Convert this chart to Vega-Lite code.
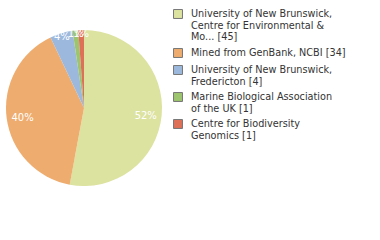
{
  "$schema": "https://vega.github.io/schema/vega-lite/v6.json",
  "width": 168,
  "height": 216,
  "padding": {"left": 0, "top": 0, "right": 0, "bottom": 0},
  "background": "white",
  "config": {"view": {"stroke": null}, "font": "DejaVu Sans"},
  "data": {"values": [
    {"source": "University of New Brunswick,\nCentre for Environmental &\nMo... [45]", "count": 45, "order": 1, "pct": "52%"},
    {"source": "Mined from GenBank, NCBI [34]", "count": 34, "order": 2, "pct": "40%"},
    {"source": "University of New Brunswick,\nFredericton [4]", "count": 4, "order": 3, "pct": "4%"},
    {"source": "Marine Biological Association\nof the UK [1]", "count": 1, "order": 4, "pct": "1%"},
    {"source": "Centre for Biodiversity\nGenomics [1]", "count": 1, "order": 5, "pct": "1%"}
  ]},
  "encoding": {
    "theta": {"field": "count", "type": "quantitative", "stack": true},
    "order": {"field": "order", "type": "quantitative"},
    "color": {
      "field": "source", "type": "nominal",
      "sort": {"field": "order"},
      "scale": {
        "domain": ["University of New Brunswick,\nCentre for Environmental &\nMo... [45]", "Mined from GenBank, NCBI [34]", "University of New Brunswick,\nFredericton [4]", "Marine Biological Association\nof the UK [1]", "Centre for Biodiversity\nGenomics [1]"],
        "range": ["#dce29f", "#eeac6e", "#9cb9dd", "#9dc46e", "#de7058"]
      },
      "legend": {
        "title": null,
        "orient": "none",
        "legendX": 173,
        "legendY": 9,
        "symbolType": "square",
        "symbolSize": 80,
        "symbolStrokeColor": "#777777",
        "symbolStrokeWidth": 1,
        "labelExpr": "split(datum.label, '\\n')",
        "labelFont": "DejaVu Sans",
        "labelFontSize": 9.7,
        "labelLineHeight": 11.5,
        "labelColor": "#333333",
        "labelLimit": 200,
        "labelOffset": 8,
        "rowPadding": 3,
        "labelBaseline": "middle"
      }
    }
  },
  "layer": [
    {"mark": {"type": "arc", "outerRadius": 78, "stroke": null}},
    {"mark": {"type": "text", "radius": {"expr": "datum.count < 5 ? 76 : 62"}, "dy": 2, "fill": "white", "fontSize": 10, "font": "DejaVu Sans"},
     "encoding": {"text": {"field": "pct"}}}
  ]
}
